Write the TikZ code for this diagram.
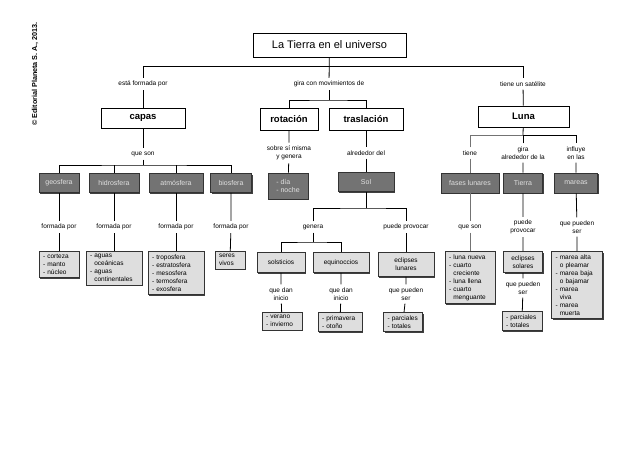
\documentclass[tikz,border=0pt]{standalone}
\usepackage{fontspec}
\setmainfont{Liberation Sans}
\usetikzlibrary{shadows}

\definecolor{darkbox}{RGB}{115,115,115}
\definecolor{lightbox}{RGB}{222,222,222}
\definecolor{boxtext}{RGB}{225,225,225}

\tikzset{
  conn/.style={line width=0.8pt},
  gconn/.style={line width=0.8pt, draw=black!55},
  shad/.style={drop shadow={shadow xshift=1.4pt, shadow yshift=-1.4pt, fill=black!75, opacity=1}},
  mainbox/.style={draw=black, line width=0.9pt, fill=white, shad, inner sep=2pt,
    font=\bfseries\fontsize{9.5}{11}\selectfont},
  titlebox/.style={mainbox, font=\fontsize{11}{13}\selectfont},
  darkbx/.style={draw=black!80, line width=0.9pt, fill=darkbox, text=boxtext, shad, inner sep=2pt,
    font=\fontsize{7}{8}\selectfont},
  lightbx/.style={draw=black!80, line width=0.9pt, fill=lightbox, shad, anchor=north, align=left,
    inner xsep=4pt, inner ysep=3pt, font=\fontsize{6.5}{8}\selectfont},
  lbl/.style={inner sep=3pt, align=center, font=\fontsize{6.5}{8}\selectfont},
}

\begin{document}
\begin{tikzpicture}[x=1pt,y=1pt,yscale=-1,xscale=1]
\useasboundingbox (0,0) rectangle (638,451);

% Copyright
\node[rotate=90, inner sep=0pt, font=\fontsize{7.2}{8}\selectfont\bfseries] (copy) at (35,74) {© Editorial Planeta S. A., 2013.};

%Shape: Title
\node[titlebox, minimum width=153pt, minimum height=24pt] (tierra) at (329.5,45) {La Tierra en el universo};

% Text Node
\node[lbl] (lForm) at (143,84) {está formada por};
\node[lbl] (lGira) at (329,84) {gira con movimientos de};
\node[lbl] (lSat) at (523,84) {tiene un satélite};

%Shape: main boxes
\node[mainbox, minimum width=84pt, minimum height=20pt] (capas) at (143,118) {capas};
\node[mainbox, minimum width=58pt, minimum height=22pt] (rotacion) at (289,119) {rotación};
\node[mainbox, minimum width=74pt, minimum height=22pt] (traslacion) at (366,119) {traslación};
\node[mainbox, minimum width=91pt, minimum height=21pt] (luna) at (523.5,116.5) {Luna};

% capas
\node[lbl] (lSon) at (143,154) {que son};
\coordinate (busCapas) at (143,165);
\node[darkbx, minimum width=40pt, minimum height=19pt] (geosfera) at (59,183) {geosfera};
\node[darkbx, minimum width=50pt, minimum height=19pt] (hidrosfera) at (114,183) {hidrosfera};
\node[darkbx, minimum width=54pt, minimum height=19pt] (atmosfera) at (176,183) {atmósfera};
\node[darkbx, minimum width=41pt, minimum height=19pt] (biosfera) at (231,183) {biosfera};

\node[lbl] (lF1) at (59,227) {formada por};
\node[lbl] (lF2) at (114,227) {formada por};
\node[lbl] (lF3) at (176,227) {formada por};
\node[lbl] (lF4) at (231,227) {formada por};

\node[lightbx, text width=32pt] (corteza) at (59,251) {- corteza\\- manto\\- núcleo};
\node[lightbx, text width=48pt] (aguas) at (114,251) {- aguas\\\phantom{- }oceánicas\\- aguas\\\phantom{- }continentales};
\node[lightbx, text width=48pt] (capasAire) at (176,251) {- troposfera\\- estratosfera\\- mesosfera\\- termosfera\\- exosfera};
\node[lightbx, text width=22pt] (seres) at (230,251) {seres\\vivos};

% rotacion
\node[lbl] (lSobre) at (289,153) {sobre sí misma\\y genera};
\node[darkbx, minimum width=40pt, minimum height=26pt, align=left] (dia) at (288,186) {- día\\- noche};

% traslacion
\node[lbl] (lAlred) at (366,153) {alrededor del};
\node[darkbx, minimum width=56pt, minimum height=19pt] (sol) at (366,182) {Sol};
\coordinate (busSol) at (366,208);
\node[lbl] (lGenera) at (313,227) {genera};
\node[lbl] (lProvocar) at (406,227) {puede provocar};
\coordinate (busGen) at (313,242);
\node[lightbx, minimum width=48pt, minimum height=20pt, align=center] (solsticios) at (281,252) {solsticios};
\node[lightbx, minimum width=56pt, minimum height=20pt, align=center] (equinoccios) at (341,252) {equinoccios};
\node[lightbx, minimum width=56pt, minimum height=24pt, align=center] (eclLun) at (406,252) {eclipses\\lunares};

\node[lbl] (lDan1) at (281,294) {que dan\\inicio};
\node[lbl] (lDan2) at (341,294) {que dan\\inicio};
\node[lbl] (lPueden1) at (406,294) {que pueden\\ser};

\node[lightbx, text width=32pt] (verano) at (282,312) {- verano\\- invierno};
\node[lightbx, text width=36pt] (primavera) at (340,312) {- primavera\\- otoño};
\node[lightbx, text width=31pt] (parc1) at (403,312) {- parciales\\- totales};

% Luna
\coordinate (busLuna) at (523,135);
\node[lbl] (lTiene) at (470,153) {tiene};
\node[lbl] (lGiraAl) at (523,153) {gira\\alrededor de la};
\node[lbl] (lInfluye) at (576,153) {influye\\en las};

\node[darkbx, minimum width=58pt, minimum height=20pt] (fases) at (470,183) {fases lunares};
\node[darkbx, minimum width=39pt, minimum height=20pt] (tierraBox) at (523,183) {Tierra};
\node[darkbx, minimum width=43pt, minimum height=20pt] (mareas) at (576,183) {mareas};

\node[lbl] (lQueSon) at (470,227) {que son};
\node[lbl] (lPuede) at (523,227) {puede\\provocar};
\node[lbl] (lPueden3) at (577,227) {que pueden\\ser};

\node[lightbx, text width=42pt] (fasesList) at (470,251) {- luna nueva\\- cuarto\\\phantom{- }creciente\\- luna llena\\- cuarto\\\phantom{- }menguante};
\node[lightbx, minimum width=39pt, minimum height=21pt, align=center] (eclSol) at (523,251) {eclipses\\solares};
\node[lbl] (lPueden2) at (523,288) {que pueden\\ser};
\node[lightbx, text width=32pt] (parc2) at (522,311) {- parciales\\- totales};
\node[lightbx, text width=43pt] (mareasList) at (577,251) {- marea alta\\\phantom{- }o pleamar\\- marea baja\\\phantom{- }o bajamar\\- marea\\\phantom{- }viva\\- marea\\\phantom{- }muerta};

%Straight Lines: top level
\draw[conn] (tierra) -- (lGira);
\draw[conn] (lForm.north) -- (lForm.north |- 0,66) -- (lSat.north |- 0,66) -- (lSat.north);
\draw[conn] (lForm) -- (capas);
\draw[conn] (lSat) -- (luna);
\draw[conn] (lGira) -- (lGira |- 0,100);
\draw[conn] (rotacion) |- (lGira |- 0,100) -| (traslacion);

%Straight Lines: capas
\draw[conn] (capas) -- (lSon) -- (busCapas);
\draw[conn] (geosfera) |- (busCapas) -| (biosfera);
\draw[conn] (hidrosfera) -- (hidrosfera |- busCapas);
\draw[conn] (atmosfera) -- (atmosfera |- busCapas);
\draw[conn] (geosfera) -- (lF1) -- (corteza);
\draw[conn] (hidrosfera) -- (lF2) -- (aguas);
\draw[conn] (atmosfera) -- (lF3) -- (capasAire);
\draw[conn] (biosfera) -- (lF4) -- (seres);

%Straight Lines: rotacion, traslacion
\draw[conn] (rotacion) -- (lSobre) -- (dia);
\draw[conn] (traslacion) -- (lAlred) -- (sol) -- (busSol);
\draw[conn] (lGenera) |- (busSol) -| (lProvocar);
\draw[conn] (lGenera) -- (busGen);
\draw[conn] (solsticios) |- (busGen) -| (equinoccios);
\draw[conn] (lProvocar) -- (eclLun);
\draw[conn] (solsticios) -- (lDan1) -- (verano);
\draw[conn] (equinoccios) -- (lDan2) -- (primavera);
\draw[conn] (eclLun) -- (lPueden1) -- (parc1);

%Straight Lines: Luna
\draw[conn] (luna) -- (busLuna);
\draw[gconn] (lTiene) |- (busLuna);
\draw[conn] (busLuna) -| (lInfluye);
\draw[conn] (lGiraAl) -- (busLuna);
\draw[gconn] (lTiene) -- (fases) -- (lQueSon) -- (fasesList);
\draw[conn] (lGiraAl) -- (tierraBox) -- (lPuede) -- (eclSol) -- (lPueden2) -- (parc2);
\draw[conn] (lInfluye) -- (mareas) -- (lPueden3) -- (mareasList);

\end{tikzpicture}
\end{document}
